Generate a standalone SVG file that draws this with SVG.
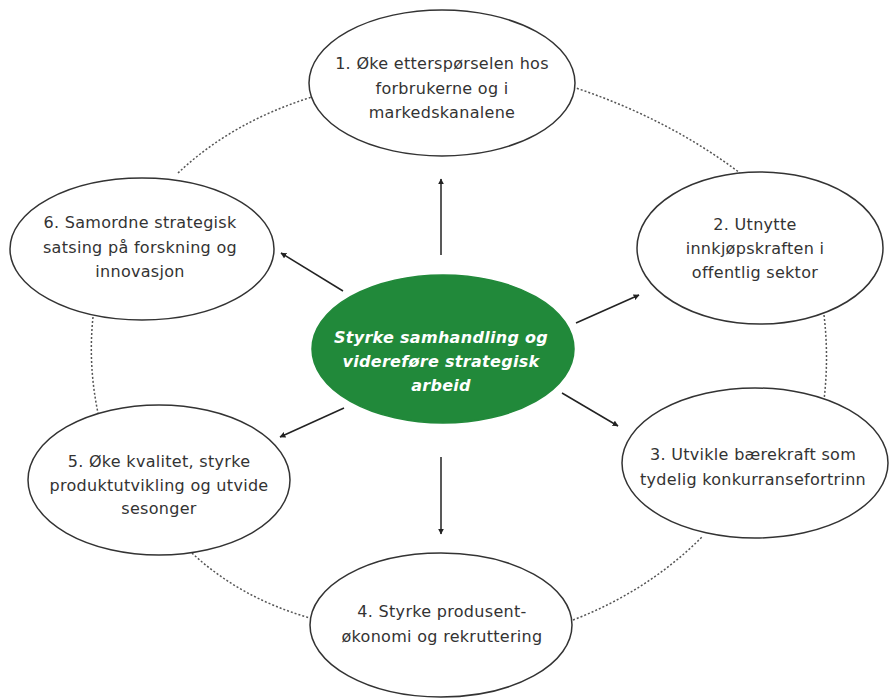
<svg xmlns="http://www.w3.org/2000/svg" width="890" height="699" viewBox="0 0 890 699">
<defs>
<style>
.node{fill:#fff;stroke:#333;stroke-width:1.5}
.core{fill:#21893a;stroke:#21893a;stroke-width:1.5}
.t{font-family:"DejaVu Sans",Verdana,sans-serif;font-size:16px;letter-spacing:0.3px;fill:#333;text-anchor:middle}
.ct{font-family:"DejaVu Sans",Verdana,sans-serif;font-size:16px;letter-spacing:0.3px;font-weight:bold;font-style:italic;fill:#fff;text-anchor:middle}
.dot{fill:none;stroke:#555;stroke-width:1.5;stroke-dasharray:2 2}
.arr{fill:none;stroke:#222;stroke-width:1.5;marker-end:url(#ah)}
</style>
<marker id="ah" viewBox="0 0 10 10" refX="9" refY="5" markerWidth="6" markerHeight="6" markerUnits="userSpaceOnUse" orient="auto">
<path d="M0,0 L10,5 L0,10 z" fill="#222"/>
</marker>
</defs>
<rect width="890" height="699" fill="#fff"/>
<g id="connectors">
<path class="dot" d="M178,173 Q232,122 312,97"/>
<path class="dot" d="M573,87 Q667,118 740,173"/>
<path class="dot" d="M93,317 Q88,365 98,413"/>
<path class="dot" d="M824,315 Q829,357 824,400"/>
<path class="dot" d="M192,553 Q240,598 310,618"/>
<path class="dot" d="M573,620 Q648,591 702,537"/>
<path class="arr" d="M441,255 L441,179"/>
<path class="arr" d="M343,291 L281,253"/>
<path class="arr" d="M576,323 L639,295"/>
<path class="arr" d="M562,393 L618,426"/>
<path class="arr" d="M344,408 L280,437"/>
<path class="arr" d="M441,457 L441,534"/>
</g>
<g id="node1">
<ellipse class="node" cx="442" cy="83" rx="133" ry="73"/>
<text class="t" x="442" y="69">1. Øke etterspørselen hos</text>
<text class="t" x="442" y="94">forbrukerne og i</text>
<text class="t" x="442" y="118">markedskanalene</text>
</g>
<g id="node2">
<ellipse class="node" cx="760" cy="248" rx="123" ry="76"/>
<text class="t" x="755" y="230">2. Utnytte</text>
<text class="t" x="755" y="254">innkjøpskraften i</text>
<text class="t" x="755" y="278">offentlig sektor</text>
</g>
<g id="node3">
<ellipse class="node" cx="755" cy="463" rx="133" ry="75"/>
<text class="t" x="753" y="460">3. Utvikle bærekraft som</text>
<text class="t" x="753" y="485">tydelig konkurransefortrinn</text>
</g>
<g id="node4">
<ellipse class="node" cx="441" cy="625" rx="131" ry="72"/>
<text class="t" x="442" y="617">4. Styrke produsent-</text>
<text class="t" x="442" y="642">økonomi og rekruttering</text>
</g>
<g id="node5">
<ellipse class="node" cx="159" cy="480" rx="131" ry="75"/>
<text class="t" x="159" y="467">5. Øke kvalitet, styrke</text>
<text class="t" x="159" y="491">produktutvikling og utvide</text>
<text class="t" x="159" y="514">sesonger</text>
</g>
<g id="node6">
<ellipse class="node" cx="142" cy="249" rx="132" ry="71"/>
<text class="t" x="140" y="228">6. Samordne strategisk</text>
<text class="t" x="140" y="253">satsing på forskning og</text>
<text class="t" x="140" y="277">innovasjon</text>
</g>
<g id="center">
<ellipse class="core" cx="443" cy="349" rx="131" ry="74"/>
<text class="ct" x="441" y="343">Styrke samhandling og</text>
<text class="ct" x="441" y="367">videreføre strategisk</text>
<text class="ct" x="441" y="391">arbeid</text>
</g>
</svg>
